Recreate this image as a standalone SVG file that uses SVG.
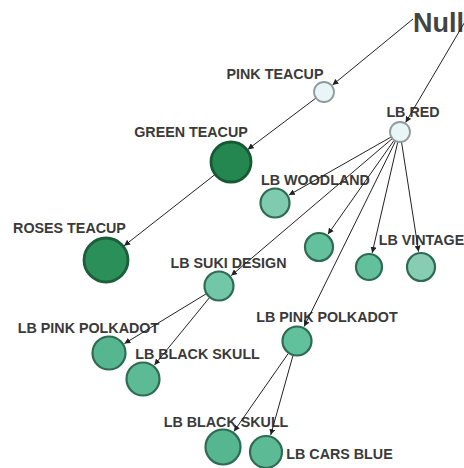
<svg xmlns="http://www.w3.org/2000/svg" width="464" height="468" viewBox="0 0 464 468">
<defs>
<marker id="arr" viewBox="0 0 6 6" refX="6" refY="3" markerWidth="6" markerHeight="6" markerUnits="userSpaceOnUse" orient="auto">
<path d="M0,0 L6,3 L0,6 z" fill="#222"/>
</marker>
</defs>
<style>
.lbl{font-family:"Liberation Sans",Arial,sans-serif;font-weight:bold;font-size:14.3px;fill:#3a3a3a;text-anchor:middle}
.null{font-family:"Liberation Sans",Arial,sans-serif;font-weight:bold;font-size:27px;fill:#444}
.e{stroke:#222;stroke-width:1;fill:none;marker-end:url(#arr)}
.n{stroke:#2f6b52;stroke-width:2.2}
.light{fill:#eaf5f8;stroke:#8e9c9c;stroke-width:1.8}
</style>
<rect width="464" height="468" fill="#fff"/>
<g id="labels">
<text class="null" x="413" y="32">Null</text>
<text class="lbl" x="275" y="79">PINK TEACUP</text>
<text class="lbl" x="413" y="117">LB RED</text>
<text class="lbl" x="191" y="137">GREEN TEACUP</text>
<text class="lbl" x="69.5" y="233">ROSES TEACUP</text>
<text class="lbl" x="315.5" y="185">LB WOODLAND</text>
<text class="lbl" x="421.5" y="245">LB VINTAGE</text>
<text class="lbl" x="228.5" y="268">LB SUKI DESIGN</text>
<text class="lbl" x="88.5" y="333">LB PINK POLKADOT</text>
<text class="lbl" x="197.5" y="359">LB BLACK SKULL</text>
<text class="lbl" x="327" y="322">LB PINK POLKADOT</text>
<text class="lbl" x="226" y="427">LB BLACK SKULL</text>
<text class="lbl" x="339.5" y="459">LB CARS BLUE</text>
</g>
<g id="edges">
<line class="e" x1="413" y1="19" x2="332.5" y2="85"/>
<line class="e" x1="466" y1="20" x2="405.6" y2="122.5"/>
<line class="e" x1="316" y1="98" x2="247.8" y2="149.4"/>
<line class="e" x1="215.3" y1="174.3" x2="124.1" y2="245.8"/>
<line class="e" x1="391.3" y1="136.9" x2="288.9" y2="195.1"/>
<line class="e" x1="394.2" y1="140.2" x2="327.9" y2="234.3"/>
<line class="e" x1="397.8" y1="141.8" x2="372.2" y2="252.9"/>
<line class="e" x1="401.5" y1="141.9" x2="418.6" y2="251.7"/>
<line class="e" x1="392.4" y1="138.5" x2="231.2" y2="275.6"/>
<line class="e" x1="395.6" y1="141" x2="304.1" y2="326.6"/>
<line class="e" x1="206.2" y1="293.8" x2="124.4" y2="343.6"/>
<line class="e" x1="209.5" y1="297.6" x2="154.4" y2="365.1"/>
<line class="e" x1="288.4" y1="353.3" x2="233.9" y2="431.4"/>
<line class="e" x1="293" y1="355.4" x2="270.7" y2="435.1"/>
</g>
<g id="pink-teacup"><circle class="light" cx="324" cy="92" r="10"/></g>
<g id="lb-red"><circle class="light" cx="400" cy="132" r="10"/></g>
<g id="green-teacup"><circle cx="231" cy="162" r="20" fill="#23874f" stroke="#165a33" stroke-width="2.8"/></g>
<g id="roses-teacup"><circle cx="106" cy="260" r="22" fill="#2a8f59" stroke="#1c5e3a" stroke-width="2.8"/></g>
<g id="lb-woodland"><circle class="n" cx="275" cy="203" r="14.5" fill="#7ecbb0"/></g>
<g id="unlabeled"><circle class="n" cx="319" cy="247" r="14" fill="#64c19e"/></g>
<g id="lb-vintage-1"><circle class="n" cx="369" cy="267" r="13" fill="#62c09c"/></g>
<g id="lb-vintage-2"><circle class="n" cx="421" cy="267" r="14" fill="#86cdb4"/></g>
<g id="lb-suki-design"><circle class="n" cx="219" cy="286" r="14.5" fill="#72c7a9"/></g>
<g id="lb-pink-polkadot-1"><circle class="n" cx="109" cy="353" r="16.5" fill="#55b690"/></g>
<g id="lb-black-skull-1"><circle class="n" cx="143" cy="379" r="16.5" fill="#5cba95"/></g>
<g id="lb-pink-polkadot-2"><circle class="n" cx="297" cy="341" r="14.5" fill="#62c19d"/></g>
<g id="lb-black-skull-2"><circle class="n" cx="223" cy="447" r="17.5" fill="#55b690"/></g>
<g id="lb-cars-blue"><circle class="n" cx="266" cy="452" r="16" fill="#5cba95"/></g>
</svg>
